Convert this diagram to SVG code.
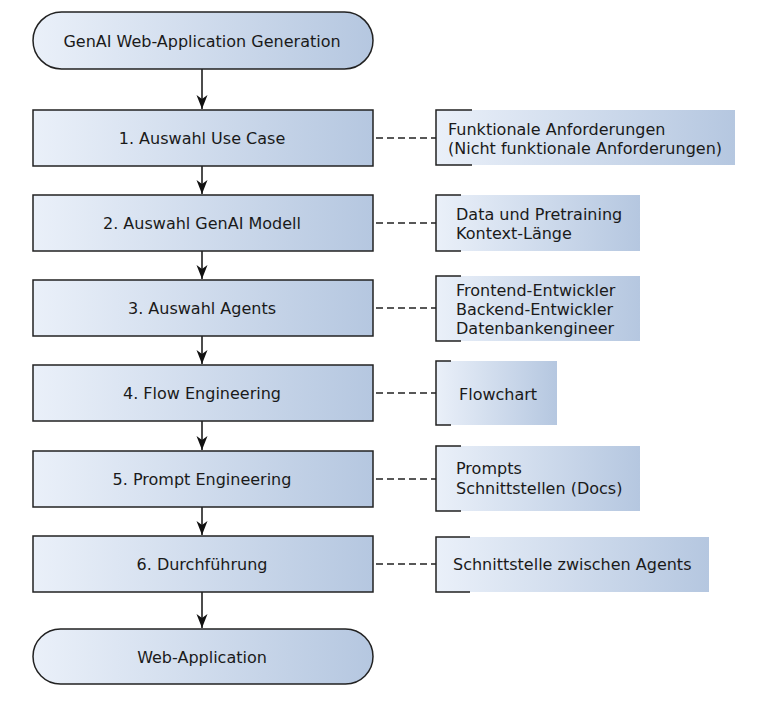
<svg xmlns="http://www.w3.org/2000/svg" width="774" height="711" viewBox="0 0 774 711">
<defs>
<linearGradient id="g" x1="0" y1="0" x2="1" y2="0">
<stop offset="0" stop-color="#eaf0f9"/>
<stop offset="1" stop-color="#b5c7e0"/>
</linearGradient>
<marker id="ah" markerWidth="15" markerHeight="13" refX="14" refY="6.5" orient="auto" markerUnits="userSpaceOnUse">
<path d="M0,1 L14,6.5 L0,12 L4,6.5 Z" fill="#111"/>
</marker>
<style>
.n{fill:url(#g);stroke:#222;stroke-width:1.5}
.a{fill:url(#g);stroke:none}
.br{fill:none;stroke:#222;stroke-width:1.5}
.t{font-family:"DejaVu Sans",Verdana,sans-serif;font-size:16px;fill:#1a1a1a}
.c{text-anchor:middle}
.e{stroke:#111;stroke-width:1.5;fill:none;marker-end:url(#ah)}
.d{stroke:#222;stroke-width:1.3;stroke-dasharray:7,4;fill:none}
</style>
</defs>
<rect width="774" height="711" fill="#fff"/>
<g id="connectors">
<line class="e" x1="202" y1="69" x2="202" y2="109"/>
<line class="e" x1="202" y1="166" x2="202" y2="194"/>
<line class="e" x1="202" y1="251" x2="202" y2="279"/>
<line class="e" x1="202" y1="336" x2="202" y2="364"/>
<line class="e" x1="202" y1="421" x2="202" y2="450"/>
<line class="e" x1="202" y1="507" x2="202" y2="535"/>
<line class="e" x1="202" y1="592" x2="202" y2="628"/>
<line class="d" x1="376" y1="138" x2="436" y2="138"/>
<line class="d" x1="376" y1="223" x2="436" y2="223"/>
<line class="d" x1="376" y1="308" x2="436" y2="308"/>
<line class="d" x1="376" y1="393" x2="436" y2="393"/>
<line class="d" x1="376" y1="479" x2="436" y2="479"/>
<line class="d" x1="376" y1="564" x2="436" y2="564"/>
</g>
<g id="start">
<rect class="n" x="33" y="12" width="340" height="57" rx="28.5" ry="28.5"/>
<text class="t c" x="202" y="47">GenAI Web-Application Generation</text>
</g>
<g id="s1">
<rect class="n" x="33" y="110" width="340" height="56"/>
<text class="t c" x="202" y="144">1. Auswahl Use Case</text>
</g>
<g id="s2">
<rect class="n" x="33" y="195" width="340" height="56"/>
<text class="t c" x="202" y="229">2. Auswahl GenAI Modell</text>
</g>
<g id="s3">
<rect class="n" x="33" y="280" width="340" height="56"/>
<text class="t c" x="202" y="314">3. Auswahl Agents</text>
</g>
<g id="s4">
<rect class="n" x="33" y="365" width="340" height="56"/>
<text class="t c" x="202" y="399">4. Flow Engineering</text>
</g>
<g id="s5">
<rect class="n" x="33" y="451" width="340" height="56"/>
<text class="t c" x="202" y="485">5. Prompt Engineering</text>
</g>
<g id="s6">
<rect class="n" x="33" y="536" width="340" height="56"/>
<text class="t c" x="202" y="570">6. Durchführung</text>
</g>
<g id="end">
<rect class="n" x="33" y="629" width="340" height="55" rx="27.5" ry="27.5"/>
<text class="t c" x="202" y="663">Web-Application</text>
</g>
<g id="a1">
<rect class="a" x="436" y="110" width="299" height="55"/>
<path class="br" d="M472,110 H436 V165 H472"/>
<text class="t" x="448" y="135">Funktionale Anforderungen</text>
<text class="t" x="448" y="154">(Nicht funktionale Anforderungen)</text>
</g>
<g id="a2">
<rect class="a" x="436" y="195" width="204" height="56"/>
<path class="br" d="M461,195 H436 V251 H461"/>
<text class="t" x="456" y="220">Data und Pretraining</text>
<text class="t" x="456" y="239">Kontext-Länge</text>
</g>
<g id="a3">
<rect class="a" x="436" y="276" width="204" height="65"/>
<path class="br" d="M461,276 H436 V341 H461"/>
<text class="t" x="456" y="296">Frontend-Entwickler</text>
<text class="t" x="456" y="315">Backend-Entwickler</text>
<text class="t" x="456" y="334">Datenbankengineer</text>
</g>
<g id="a4">
<rect class="a" x="436" y="361" width="121" height="64"/>
<path class="br" d="M451,361 H436 V425 H451"/>
<text class="t" x="459" y="400">Flowchart</text>
</g>
<g id="a5">
<rect class="a" x="436" y="446" width="204" height="65"/>
<path class="br" d="M461,446 H436 V511 H461"/>
<text class="t" x="456" y="474">Prompts</text>
<text class="t" x="456" y="494">Schnittstellen (Docs)</text>
</g>
<g id="a6">
<rect class="a" x="436" y="537" width="273" height="55"/>
<path class="br" d="M470,537 H436 V592 H470"/>
<text class="t" x="453" y="570">Schnittstelle zwischen Agents</text>
</g>
</svg>
